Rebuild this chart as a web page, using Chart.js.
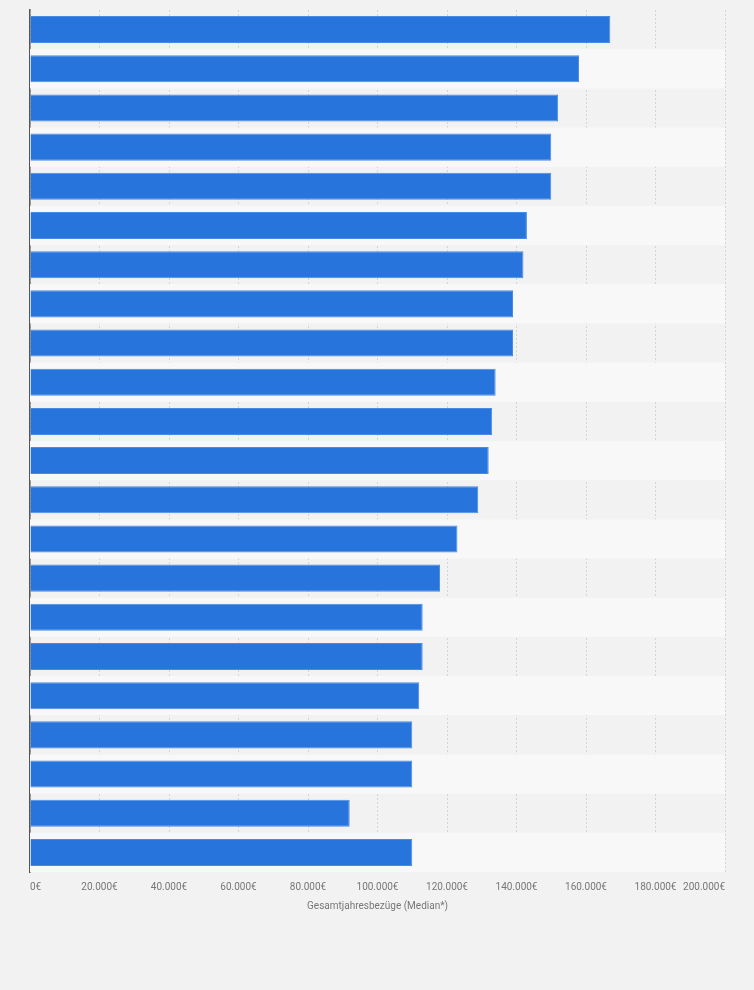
<!DOCTYPE html>
<html>
<head>
<meta charset="utf-8">
<script src="https://cdn.jsdelivr.net/npm/chart.js@4"></script>
<style>
  html, body { margin: 0; padding: 0; background: #f2f2f2; }
  #wrap { width: 754px; height: 990px; position: relative; }
</style>
</head>
<body>
<div id="wrap"><canvas id="chartSalary"></canvas></div>
<script>
// Kategorien sind im Bild nicht beschriftet
const categories = ['#1', '#2', '#3', '#4', '#5', '#6', '#7', '#8', '#9', '#10', '#11',
    '#12', '#13', '#14', '#15', '#16', '#17', '#18', '#19', '#20', '#21', '#22'];
const medianValues = [167000, 158000, 152000, 150000, 150000, 143000, 142000, 139000, 139000,
    134000, 133000, 132000, 129000, 123000, 118000, 113000, 113000, 112000, 110000, 110000,
    92000, 110000];
const xTicks = [0, 20000, 40000, 60000, 80000, 100000, 120000, 140000, 160000, 180000, 200000];
const xTitle = 'Gesamtjahresbezüge (Median*)';

const fmtEuro = v => String(v).replace(/\B(?=(\d{3})+(?!\d))/g, '.') + '€';

// abwechselnd hellere Zeilen hinter den Balken
const stripes = {
    id: 'stripes',
    beforeDatasetsDraw(chart) {
        const { ctx, chartArea, scales } = chart;
        const y = scales.y;
        ctx.save();
        ctx.fillStyle = '#f8f8f8';
        for (let i = 1; i < categories.length; i += 2) {
            const top = (y.getPixelForValue(i - 1) + y.getPixelForValue(i)) / 2;
            const bottom = i + 1 < categories.length
                ? (y.getPixelForValue(i) + y.getPixelForValue(i + 1)) / 2
                : chartArea.bottom;
            ctx.fillRect(chartArea.left, top, chartArea.right - chartArea.left, bottom - top);
        }
        ctx.restore();
    }
};

const ctxSalary = document.getElementById('chartSalary');
const chartSalary = new Chart(ctxSalary, {
    type: 'bar',
    data: {
        labels: categories,
        datasets: [{
            data: medianValues,
            backgroundColor: '#2775dc',
            borderColor: '#4a8ae3',
            borderWidth: 1,
            barPercentage: 0.69,
            categoryPercentage: 1.0
        }]
    },
    options: {
        indexAxis: 'y',
        responsive: true,
        maintainAspectRatio: false,
        animation: false,
        layout: {
            padding: { left: 22, right: 29, top: 10, bottom: 74 }
        },
        plugins: {
            legend: { display: false },
            tooltip: { enabled: false }
        },
        scales: {
            x: {
                min: 0,
                max: 200000,
                afterBuildTicks: axis => { axis.ticks = xTicks.map(v => ({ value: v })); },
                grid: { color: '#d4d4d4', drawTicks: false },
                border: { display: false, dash: [2, 2] },
                ticks: {
                    align: 'inner',
                    padding: 9,
                    color: '#777',
                    font: { family: 'Roboto', size: 10 },
                    callback: v => fmtEuro(v)
                },
                title: {
                    display: true,
                    text: xTitle,
                    color: '#777',
                    font: { family: 'Roboto', size: 10 },
                    padding: { top: -2, bottom: 4 }
                }
            },
            y: {
                grid: { display: false },
                border: { display: true, color: '#555', width: 1.5 },
                ticks: { display: false }
            }
        }
    },
    plugins: [stripes]
});
</script>
</body>
</html>
